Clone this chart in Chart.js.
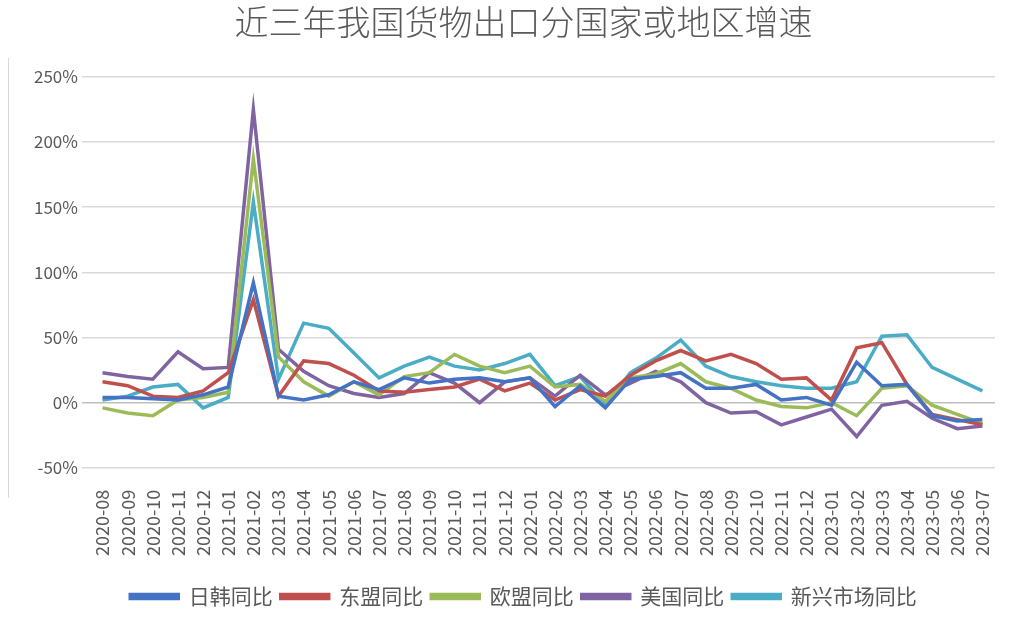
<!DOCTYPE html>
<html>
<head>
<meta charset="utf-8">
<script src="https://cdn.jsdelivr.net/npm/chart.js@4/dist/chart.umd.min.js"></script>
<style>
html,body{margin:0;padding:0;background:#fff;}
#wrap{position:relative;width:1018px;height:617px;}
#edge{position:absolute;left:8px;top:58px;width:1px;height:440px;background:#d9d9d9;}
</style>
</head>
<body>
<div id="wrap"><div id="edge"></div><canvas id="c" width="1018" height="617"></canvas></div>
<script>
const categories = ["2020-08","2020-09","2020-10","2020-11","2020-12","2021-01","2021-02","2021-03","2021-04","2021-05","2021-06","2021-07","2021-08","2021-09","2021-10","2021-11","2021-12","2022-01","2022-02","2022-03","2022-04","2022-05","2022-06","2022-07","2022-08","2022-09","2022-10","2022-11","2022-12","2023-01","2023-02","2023-03","2023-04","2023-05","2023-06","2023-07"];
const japanKorea = [4,4,3,2,6,12,92,5,2,6,16,10,19,15,18,19,16,19,-3,13,-4,18,20,23,11,11,14,2,4,-2,31,13,14,-10,-14,-13];
const asean = [16,13,5,4,9,23,79,5,32,30,21,9,8,10,12,18,9,15,2,10,5,21,32,40,32,37,30,18,19,2,42,46,14,-9,-13,-17];
const eu = [-4,-8,-10,2,4,8,187,35,16,5,16,6,20,23,37,28,23,28,12,14,1,19,22,30,16,11,2,-3,-4,0,-10,11,13,-2,-9,-16];
const usa = [23,20,18,39,26,27,225,41,24,13,7,4,7,23,15,0,16,19,5,21,6,15,24,16,0,-8,-7,-17,-11,-5,-26,-2,1,-12,-20,-18];
const emerging = [2,5,12,14,-4,4,154,18,61,57,38,19,28,35,28,25,30,37,13,20,-2,23,34,48,28,20,16,13,11,11,16,51,52,27,18,9];
const seriesNames = ["日韩同比","东盟同比","欧盟同比","美国同比","新兴市场同比"];
const yTicks = [-50,0,50,100,150,200,250];

const colors = ["#4472C4","#C0504D","#9BBB59","#8064A2","#4BACC6"];
const dataArr = [japanKorea, asean, eu, usa, emerging];
const txt = "#595959";
const font = "'Noto Sans CJK SC','Noto Sans',sans-serif";

new Chart(document.getElementById('c'), {
  type: 'line',
  data: {
    labels: categories,
    datasets: dataArr.map((d,i)=>({
      label: seriesNames[i],
      data: d,
      borderColor: colors[i],
      backgroundColor: colors[i],
      borderWidth: 3.5,
      pointRadius: 0,
      tension: 0,
      fill: false
    }))
  },
  options: {
    responsive: false,
    animation: false,
    layout: { padding: { left: 30, right: 1, top: 0, bottom: 0 } },
    plugins: {
      title: {
        display: true,
        text: "近三年我国货物出口分国家或地区增速",
        color: txt,
        font: { family: font, size: 34, weight: 300 },
        padding: { top: 2, bottom: 34 }
      },
      legend: {
        position: 'bottom',
        labels: {
          color: txt,
          font: { family: font, size: 21 },
          boxWidth: 48,
          boxHeight: 4,
          padding: 8
        }
      },
      tooltip: { enabled: false }
    },
    scales: {
      x: {
        offset: true,
        grid: { display: false },
        border: { display: false },
        afterFit: (s)=>{ s.height += 8; },
        ticks: {
          color: txt,
          font: { family: font, size: 18 },
          maxRotation: 90,
          minRotation: 90,
          autoSkip: false,
          padding: 14
        }
      },
      y: {
        min: -50,
        max: 250,
        afterBuildTicks: (s)=>{ s.ticks = yTicks.map(v=>({value:v})); },
        grid: {
          color: (ctx)=> ctx.tick && ctx.tick.value === 0 ? "#bfbfbf" : "#d9d9d9",
          lineWidth: 1.5,
          drawTicks: true,
          tickLength: 8
        },
        border: { display: false },
        ticks: {
          color: txt,
          font: { family: font, size: 17 },
          callback: (v)=> v + '%',
          padding: 4
        }
      }
    }
  }
});
</script>
</body>
</html>
